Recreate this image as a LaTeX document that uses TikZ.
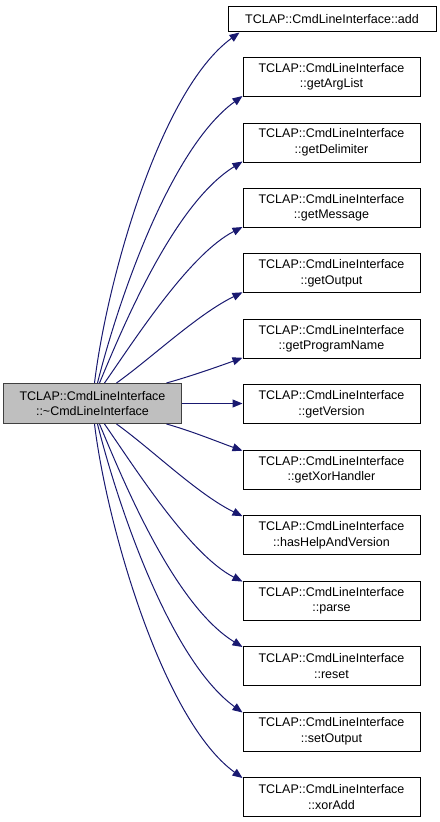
\documentclass[tikz,border=0pt]{standalone}
\usepackage{fontspec}
\setmainfont{Liberation Sans}
\usetikzlibrary{arrows.meta}
\definecolor{edgec}{HTML}{191970}
\definecolor{mainfill}{HTML}{BFBFBF}
\definecolor{mainborder}{HTML}{404040}
\tikzset{
  fn/.style={draw=black, line width=1bp, fill=white, rectangle, inner sep=0pt,
    minimum width=177bp, minimum height=39bp, align=center,
    font=\fontsize{12.5bp}{15.5bp}\selectfont},
  mainfn/.style={fn, fill=mainfill, draw=mainborder, minimum height=40bp},
  call/.style={draw=edgec, line width=1bp, -{Triangle[length=10bp,width=8bp,fill=edgec]}}
}
\begin{document}
\begin{tikzpicture}[x=1bp, y=-1bp]
\useasboundingbox (0,0) rectangle (440,822);
\node[mainfn] (main) at (92.5,403.5) {TCLAP::CmdLineInterface\\::\textasciitilde CmdLineInterface};
\node[fn, minimum width=208bp, minimum height=25bp] (add) at (332,19.5) {TCLAP::CmdLineInterface::add};
\node[fn] (n1) at (331.5,77) {TCLAP::CmdLineInterface\\::getArgList};
\node[fn] (n2) at (331.5,142.5) {TCLAP::CmdLineInterface\\::getDelimiter};
\node[fn] (n3) at (331.5,208) {TCLAP::CmdLineInterface\\::getMessage};
\node[fn] (n4) at (331.5,273.3) {TCLAP::CmdLineInterface\\::getOutput};
\node[fn] (n5) at (331.5,338.8) {TCLAP::CmdLineInterface\\::getProgramName};
\node[fn] (n6) at (331.5,404.3) {TCLAP::CmdLineInterface\\::getVersion};
\node[fn] (n7) at (331.5,469.7) {TCLAP::CmdLineInterface\\::getXorHandler};
\node[fn] (n8) at (331.5,535.2) {TCLAP::CmdLineInterface\\::hasHelpAndVersion};
\node[fn] (n9) at (331.5,600.6) {TCLAP::CmdLineInterface\\::parse};
\node[fn] (n10) at (331.5,666) {TCLAP::CmdLineInterface\\::reset};
\node[fn] (n11) at (331.5,731.5) {TCLAP::CmdLineInterface\\::setOutput};
\node[fn] (n12) at (331.5,797) {TCLAP::CmdLineInterface\\::xorAdd};
% upper edges
\draw[call] ([xshift=91bp]main.north west) .. controls +(12,-100) and +(-80,58) .. ([xshift=12bp]add.south west);
\draw[call] ([xshift=94bp]main.north west) .. controls +(20,-80) and +(-73,53) .. ([yshift=1bp]n1.south west);
\draw[call] ([xshift=96bp]main.north west) .. controls +(25,-60) and +(-68,42) .. ([yshift=1bp]n2.south west);
\draw[call] ([xshift=101bp]main.north west) .. controls +(30,-43) and +(-53,27) .. ([yshift=1bp]n3.south west);
\draw[call] ([xshift=113bp]main.north west) .. controls +(35,-25) and +(-45,22) .. ([yshift=1bp]n4.south west);
\draw[call] ([xshift=163bp]main.north west) .. controls +(25,-7) and +(-25,9) .. ([yshift=1bp]n5.south west);
% middle
\draw[call] (main.east) -- (n6.west |- main.east);
% lower edges
\draw[call] ([xshift=163bp]main.south west) .. controls +(25,7) and +(-25,-9) .. ([yshift=-1bp]n7.north west);
\draw[call] ([xshift=113bp]main.south west) .. controls +(35,25) and +(-45,-22) .. ([yshift=-1bp]n8.north west);
\draw[call] ([xshift=101bp]main.south west) .. controls +(30,43) and +(-53,-27) .. ([yshift=-1bp]n9.north west);
\draw[call] ([xshift=96bp]main.south west) .. controls +(25,60) and +(-68,-42) .. ([yshift=-1bp]n10.north west);
\draw[call] ([xshift=94bp]main.south west) .. controls +(20,80) and +(-73,-53) .. ([yshift=-1bp]n11.north west);
\draw[call] ([xshift=91bp]main.south west) .. controls +(12,100) and +(-80,-58) .. ([yshift=-1bp]n12.north west);
\end{tikzpicture}
\end{document}
